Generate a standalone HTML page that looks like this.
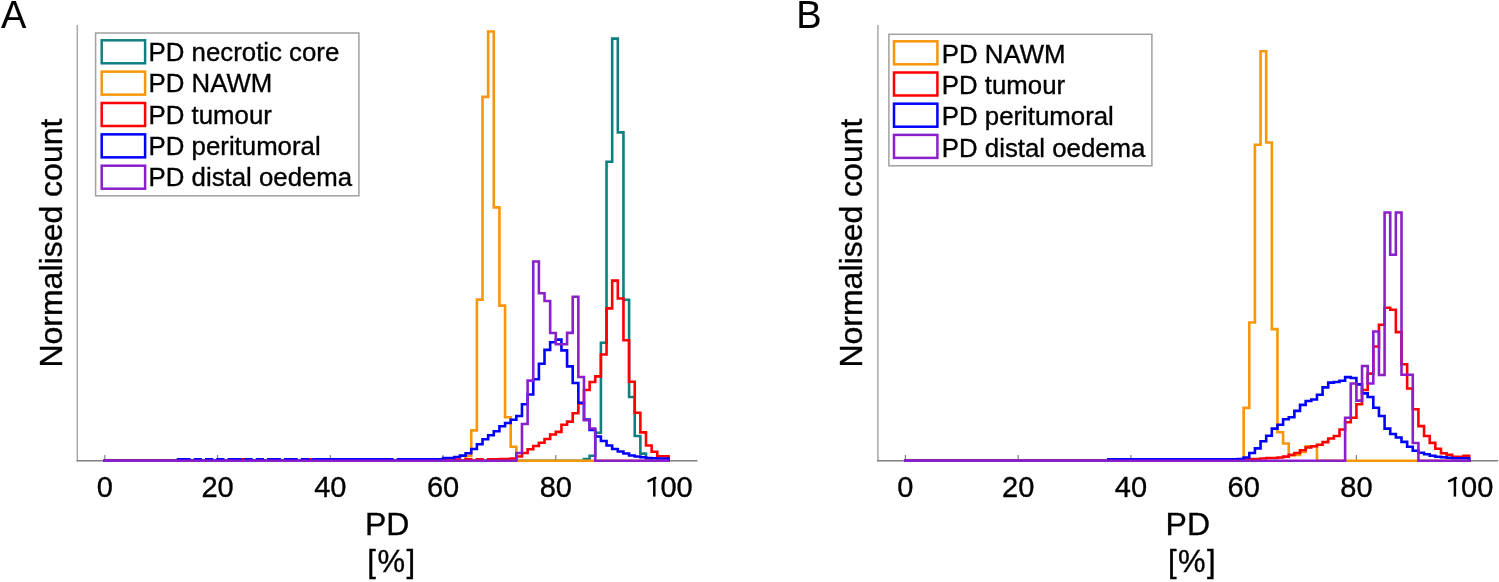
<!DOCTYPE html>
<html><head><meta charset="utf-8"><title>PD histograms</title>
<style>
html,body{margin:0;padding:0;background:#fff;}
body{width:1499px;height:582px;overflow:hidden;}
svg{display:block;will-change:transform;}
text{font-family:"Liberation Sans",sans-serif;fill:#000;stroke:#000;stroke-width:0.35px;}
.tk{font-size:29px;text-anchor:middle;}
.lg{font-size:25.8px;}
.let{font-size:38px;stroke-width:0.1px;}
.yl{font-size:32px;text-anchor:middle;}
.xl{font-size:31px;text-anchor:middle;}
path{fill:none;stroke-width:2.6;stroke-linejoin:miter;stroke-linecap:square;}
</style></head>
<body>
<svg width="1499" height="582" viewBox="0 0 1499 582">
<rect width="1499" height="582" fill="#fff"/>
<line x1="77.3" y1="25" x2="77.3" y2="461.4" stroke="#a8a8a8" stroke-width="1.5"/>
<line x1="76.6" y1="460.8" x2="697.5" y2="460.8" stroke="#808080" stroke-width="1.4"/>
<line x1="104.80" y1="455" x2="104.80" y2="460" stroke="#808080" stroke-width="1.2"/>
<text x="104.80" y="497" class="tk">0</text>
<line x1="217.55" y1="455" x2="217.55" y2="460" stroke="#808080" stroke-width="1.2"/>
<text x="217.55" y="497" class="tk">20</text>
<line x1="330.30" y1="455" x2="330.30" y2="460" stroke="#808080" stroke-width="1.2"/>
<text x="330.30" y="497" class="tk">40</text>
<line x1="443.05" y1="455" x2="443.05" y2="460" stroke="#808080" stroke-width="1.2"/>
<text x="443.05" y="497" class="tk">60</text>
<line x1="555.80" y1="455" x2="555.80" y2="460" stroke="#808080" stroke-width="1.2"/>
<text x="555.80" y="497" class="tk">80</text>
<line x1="668.55" y1="455" x2="668.55" y2="460" stroke="#808080" stroke-width="1.2"/>
<text x="660.49" y="497" class="tk" style="text-anchor:start">00</text>
<path d="M654.30,496.6V477.9" stroke="#000" style="stroke-width:2.5px;stroke-linecap:butt"/>
<path d="M655.30,477.9L648.40,481.1" stroke="#000" style="stroke-width:2.4px;stroke-linecap:round"/>
<path d="M104.80,460.8H110.44H116.08H121.71H127.35H132.99H138.62H144.26H149.90H155.54H161.18H166.81H172.45H178.09H183.72H189.36H195.00H200.64H206.28H211.91H217.55H223.19H228.82H234.46H240.10H245.74H251.38H257.01H262.65H268.29H273.93H279.56H285.20H290.84H296.48H302.11H307.75H313.39H319.02H324.66H330.30H335.94H341.57H347.21H352.85H358.49H364.12H369.76H375.40H381.04H386.68H392.31H397.95H403.59H409.23H414.86H420.50H426.14H431.78H437.41H443.05H448.69H454.33H459.96H465.60H471.24H476.88H482.51H488.15H493.79H499.43H505.06H510.70H516.34H521.98H527.61H533.25H538.89H544.52H550.16H555.80H561.44H567.08H572.71H578.35H583.99V459H589.62V455.7H595.26V432.7H600.90V342.7H606.54V161.7H612.17V38.6H617.81V132.4H623.45V299.8H629.09V397H634.73V436H640.36V453.6H646.00V458.5H651.64V460.8H657.27H662.91H668.55" stroke="#0f7f80"/>
<path d="M104.80,460.8H110.44H116.08H121.71H127.35H132.99H138.62H144.26H149.90H155.54H161.18H166.81H172.45H178.09H183.72H189.36H195.00H200.64H206.28H211.91H217.55H223.19H228.82H234.46H240.10H245.74H251.38H257.01H262.65H268.29H273.93H279.56H285.20H290.84H296.48H302.11H307.75H313.39H319.02H324.66H330.30H335.94H341.57H347.21H352.85H358.49H364.12H369.76H375.40H381.04H386.68H392.31H397.95H403.59H409.23H414.86H420.50H426.14H431.78H437.41H443.05H448.69H454.33H459.96H465.60V456H471.24V430.4H476.88V299.6H482.51V96.9H488.15V31.5H493.79V207.4H499.43V305.6H505.06V417.3H510.70V446.7H516.34V460.8H521.98H527.61H533.25H538.89H544.52H550.16H555.80H561.44H567.08H572.71H578.35H583.99H589.62H595.26H600.90H606.54H612.17H617.81H623.45H629.09H634.73H640.36H646.00H651.64H657.27H662.91H668.55" stroke="#f8960a"/>
<path d="M104.80,460.8H110.44H116.08H121.71H127.35H132.99H138.62H144.26H149.90H155.54H161.18H166.81H172.45H178.09H183.72H189.36H195.00H200.64H206.28H211.91H217.55H223.19H228.82H234.46H240.10V459.2H245.74V460.8H251.38H257.01H262.65H268.29H273.93H279.56H285.20H290.84H296.48H302.11H307.75V459.2H313.39V460.8H319.02H324.66H330.30H335.94H341.57H347.21H352.85H358.49H364.12H369.76H375.40H381.04H386.68H392.31H397.95H403.59H409.23H414.86H420.50H426.14H431.78V459.5H437.41V460.8H443.05V459.5H448.69V460.8H454.33V459.5H459.96V460.8H465.60V459.3H471.24V460.8H476.88V459.3H482.51V460.8H488.15V459.3H493.79H499.43V459H505.06H510.70V458.5H516.34V456.5H521.98V453H527.61V449.3H533.25V446H538.89V442.8H544.52V439H550.16V434.5H555.80V431.9H561.44V424.8H567.08V421.6H572.71V413.2H578.35V403.5H583.99V390H589.62V382H595.26V376.4H600.90V354.5H606.54V308.4H612.17V280.6H617.81V298.5H623.45V340.2H629.09V381.8H634.73V412.8H640.36V432.4H646.00V445.5H651.64V451.7H657.27V456.2H662.91H668.55V460.8" stroke="#ff0000"/>
<path d="M104.80,460.8H110.44H116.08H121.71H127.35H132.99H138.62H144.26H149.90H155.54H161.18H166.81H172.45H178.09V459.2H183.72H189.36V460.8H195.00V459.2H200.64V460.8H206.28V459.2H211.91V460.8H217.55V459.2H223.19V460.8H228.82V459.2H234.46H240.10V460.8H245.74V459.2H251.38V460.8H257.01V459.2H262.65V460.8H268.29V459.2H273.93H279.56V460.8H285.20V459.2H290.84H296.48V460.8H302.11V459.2H307.75V460.8H313.39V459.2H319.02H324.66H330.30H335.94H341.57H347.21H352.85H358.49H364.12H369.76H375.40H381.04H386.68H392.31V460.8H397.95V459.2H403.59H409.23H414.86H420.50H426.14H431.78H437.41H443.05V458H448.69H454.33V457H459.96V455.6H465.60V453.2H471.24V449H476.88V444.2H482.51V439.3H488.15V435.3H493.79V431.2H499.43V426.3H505.06V423H510.70V419.8H516.34V416H521.98V404.2H527.61V394.5H533.25V379.3H538.89V363.8H544.52V349.9H550.16V342.2H555.80V339.6H561.44V350.4H567.08V366.4H572.71V383H578.35V402.8H583.99V419.6H589.62V430H595.26V436.5H600.90V441H606.54V445.5H612.17V449H617.81V451.5H623.45V453.5H629.09V455.5H634.73V456.5H640.36V457.3H646.00V458H651.64V458.3H657.27V458.5H662.91H668.55V460.8" stroke="#0000ff"/>
<path d="M104.80,460.8H110.44H116.08H121.71H127.35H132.99H138.62H144.26H149.90H155.54H161.18H166.81H172.45H178.09H183.72H189.36H195.00H200.64H206.28H211.91H217.55H223.19H228.82H234.46H240.10H245.74H251.38H257.01H262.65H268.29H273.93H279.56H285.20H290.84H296.48H302.11H307.75H313.39H319.02H324.66H330.30H335.94H341.57H347.21H352.85H358.49H364.12H369.76H375.40H381.04H386.68H392.31H397.95H403.59H409.23H414.86H420.50H426.14H431.78H437.41H443.05H448.69H454.33H459.96H465.60H471.24H476.88H482.51H488.15H493.79H499.43H505.06H510.70H516.34V453H521.98V424H527.61V380.6H533.25V261.5H538.89V293.3H544.52V301H550.16V333H555.80V344.2H561.44H567.08V332.9H572.71V296.7H578.35V377H583.99V420.3H589.62V428.5H595.26V460.8H600.90H606.54H612.17H617.81H623.45H629.09H634.73H640.36H646.00H651.64H657.27H662.91H668.55" stroke="#8a1fcc"/>
<rect x="95.6" y="33.0" width="263.3" height="162.8" fill="#fff" stroke="#a0a0a0" stroke-width="1.5"/>
<rect x="101.7" y="40.30" width="43.4" height="23" fill="none" stroke="#0f7f80" stroke-width="2.5"/>
<text x="148.6" y="60.80" class="lg">PD necrotic core</text>
<rect x="101.7" y="71.65" width="43.4" height="23" fill="none" stroke="#f8960a" stroke-width="2.5"/>
<text x="148.6" y="92.15" class="lg">PD NAWM</text>
<rect x="101.7" y="103.00" width="43.4" height="23" fill="none" stroke="#ff0000" stroke-width="2.5"/>
<text x="148.6" y="123.50" class="lg">PD tumour</text>
<rect x="101.7" y="134.35" width="43.4" height="23" fill="none" stroke="#0000ff" stroke-width="2.5"/>
<text x="148.6" y="154.85" class="lg">PD peritumoral</text>
<rect x="101.7" y="165.70" width="43.4" height="23" fill="none" stroke="#8a1fcc" stroke-width="2.5"/>
<text x="148.6" y="186.20" class="lg">PD distal oedema</text>
<text x="1.1" y="28.1" class="let">A</text>
<text transform="translate(61.8,243.1) rotate(-90)" class="yl">Normalised count</text>
<text x="387.2" y="534.6" class="xl" style="font-size:32px">PD</text>
<text x="392.0" y="572" class="xl" style="letter-spacing:1.5px">[%]</text>
<line x1="877.9" y1="25" x2="877.9" y2="461.4" stroke="#a8a8a8" stroke-width="1.5"/>
<line x1="877.1999999999999" y1="460.8" x2="1498.1" y2="460.8" stroke="#808080" stroke-width="1.4"/>
<line x1="905.40" y1="455" x2="905.40" y2="460" stroke="#808080" stroke-width="1.2"/>
<text x="905.40" y="497" class="tk">0</text>
<line x1="1018.15" y1="455" x2="1018.15" y2="460" stroke="#808080" stroke-width="1.2"/>
<text x="1018.15" y="497" class="tk">20</text>
<line x1="1130.90" y1="455" x2="1130.90" y2="460" stroke="#808080" stroke-width="1.2"/>
<text x="1130.90" y="497" class="tk">40</text>
<line x1="1243.65" y1="455" x2="1243.65" y2="460" stroke="#808080" stroke-width="1.2"/>
<text x="1243.65" y="497" class="tk">60</text>
<line x1="1356.40" y1="455" x2="1356.40" y2="460" stroke="#808080" stroke-width="1.2"/>
<text x="1356.40" y="497" class="tk">80</text>
<line x1="1469.15" y1="455" x2="1469.15" y2="460" stroke="#808080" stroke-width="1.2"/>
<text x="1461.09" y="497" class="tk" style="text-anchor:start">00</text>
<path d="M1454.90,496.6V477.9" stroke="#000" style="stroke-width:2.5px;stroke-linecap:butt"/>
<path d="M1455.90,477.9L1449.00,481.1" stroke="#000" style="stroke-width:2.4px;stroke-linecap:round"/>
<path d="M905.40,460.8H911.04H916.67H922.31H927.95H933.59H939.23H944.86H950.50H956.14H961.77H967.41H973.05H978.69H984.32H989.96H995.60H1001.24H1006.88H1012.51H1018.15H1023.79H1029.42H1035.06H1040.70H1046.34H1051.97H1057.61H1063.25H1068.89H1074.53H1080.16H1085.80H1091.44H1097.08H1102.71H1108.35H1113.99H1119.62H1125.26H1130.90H1136.54H1142.17H1147.81H1153.45H1159.09H1164.72H1170.36H1176.00H1181.64H1187.28H1192.91H1198.55H1204.19H1209.83H1215.46H1221.10H1226.74H1232.38H1238.01H1243.65V407.9H1249.29V322.5H1254.92V144.7H1260.56V51.3H1266.20V142.5H1271.84V329.1H1277.47V432.2H1283.11V443.5H1288.75V455.5H1294.39V455H1300.03V452H1305.66V446.3H1311.30H1316.94V460.8H1322.58H1328.21H1333.85H1339.49H1345.12H1350.76H1356.40H1362.04H1367.67H1373.31H1378.95H1384.59H1390.22H1395.86H1401.50H1407.14H1412.78H1418.41H1424.05H1429.69H1435.33H1440.96H1446.60H1452.24H1457.88H1463.51H1469.15" stroke="#f8960a"/>
<path d="M905.40,460.8H911.04H916.67H922.31H927.95H933.59H939.23H944.86H950.50H956.14H961.77H967.41H973.05H978.69H984.32H989.96H995.60H1001.24H1006.88H1012.51H1018.15H1023.79H1029.42H1035.06H1040.70H1046.34H1051.97H1057.61H1063.25H1068.89H1074.53H1080.16H1085.80H1091.44H1097.08H1102.71H1108.35H1113.99H1119.62H1125.26H1130.90H1136.54H1142.17H1147.81H1153.45V459.6H1159.09H1164.72H1170.36H1176.00H1181.64H1187.28H1192.91H1198.55H1204.19H1209.83H1215.46H1221.10H1226.74H1232.38H1238.01H1243.65V459.5H1249.29V459H1254.92H1260.56V458.5H1266.20V458H1271.84H1277.47V457.5H1283.11V456.6H1288.75V454.8H1294.39V453H1300.03V450.3H1305.66V447.5H1311.30V446.3H1316.94V444.8H1322.58V442.1H1328.21V438.5H1333.85V436H1339.49V429.5H1345.12V422.3H1350.76V417.8H1356.40V404.2H1362.04V390H1367.67V373.6H1373.31V346.5H1378.95V324.8H1384.59V307.8H1390.22V309.8H1395.86V332.1H1401.50V364.2H1407.14V388.5H1412.78V409.3H1418.41V426.1H1424.05V436H1429.69V442.9H1435.33V448.8H1440.96V453.2H1446.60V454.7H1452.24V456.7H1457.88H1463.51V455.7H1469.15V460.8" stroke="#ff0000"/>
<path d="M905.40,460.8H911.04H916.67H922.31H927.95H933.59H939.23H944.86H950.50H956.14H961.77H967.41H973.05H978.69H984.32H989.96H995.60H1001.24H1006.88H1012.51H1018.15H1023.79H1029.42H1035.06H1040.70H1046.34H1051.97H1057.61H1063.25H1068.89H1074.53H1080.16H1085.80H1091.44H1097.08H1102.71H1108.35V459.2H1113.99H1119.62H1125.26H1130.90H1136.54H1142.17H1147.81H1153.45H1159.09H1164.72H1170.36H1176.00H1181.64H1187.28H1192.91H1198.55H1204.19H1209.83H1215.46H1221.10H1226.74H1232.38H1238.01V459H1243.65V457.5H1249.29V453H1254.92V448.4H1260.56V441.2H1266.20V435.8H1271.84V428.6H1277.47V424.8H1283.11V419.3H1288.75V417.2H1294.39V410.9H1300.03V404.9H1305.66V401H1311.30V399.5H1316.94V394.7H1322.58V387.4H1328.21V382.6H1333.85V382H1339.49V380.8H1345.12V377.1H1350.76V378H1356.40V384.4H1362.04V393.4H1367.67V397H1373.31V407.8H1378.95V416H1384.59V428.6H1390.22V434H1395.86V437.5H1401.50V441.9H1407.14V446.8H1412.78V450.8H1418.41V452.8H1424.05V454.3H1429.69V455.7H1435.33V456.7H1440.96V457.3H1446.60V457.8H1452.24V458.3H1457.88H1463.51H1469.15V460.8" stroke="#0000ff"/>
<path d="M905.40,460.8H911.04H916.67H922.31H927.95H933.59H939.23H944.86H950.50H956.14H961.77H967.41H973.05H978.69H984.32H989.96H995.60H1001.24H1006.88H1012.51H1018.15H1023.79H1029.42H1035.06H1040.70H1046.34H1051.97H1057.61H1063.25H1068.89H1074.53H1080.16H1085.80H1091.44H1097.08H1102.71H1108.35H1113.99H1119.62H1125.26H1130.90H1136.54H1142.17H1147.81H1153.45H1159.09H1164.72H1170.36H1176.00H1181.64H1187.28H1192.91H1198.55H1204.19H1209.83H1215.46H1221.10H1226.74H1232.38H1238.01H1243.65H1249.29H1254.92H1260.56H1266.20H1271.84H1277.47H1283.11H1288.75H1294.39H1300.03H1305.66H1311.30H1316.94H1322.58H1328.21H1333.85H1339.49H1345.12V417.8H1350.76V383.5H1356.40V400.6H1362.04V366H1367.67V383.5H1373.31V331.5H1378.95V375H1384.59V212.5H1390.22V254.7H1395.86V212.5H1401.50V374.7H1407.14H1412.78V443H1418.41V460.8H1424.05H1429.69H1435.33H1440.96H1446.60H1452.24H1457.88H1463.51H1469.15" stroke="#8a1fcc"/>
<rect x="888.9" y="34.3" width="263.0" height="131.5" fill="#fff" stroke="#a0a0a0" stroke-width="1.5"/>
<rect x="894.0" y="41.30" width="43.4" height="23" fill="none" stroke="#f8960a" stroke-width="2.5"/>
<text x="941.8" y="62.90" class="lg">PD NAWM</text>
<rect x="894.0" y="72.50" width="43.4" height="23" fill="none" stroke="#ff0000" stroke-width="2.5"/>
<text x="941.8" y="94.10" class="lg">PD tumour</text>
<rect x="894.0" y="103.70" width="43.4" height="23" fill="none" stroke="#0000ff" stroke-width="2.5"/>
<text x="941.8" y="125.30" class="lg">PD peritumoral</text>
<rect x="894.0" y="134.90" width="43.4" height="23" fill="none" stroke="#8a1fcc" stroke-width="2.5"/>
<text x="941.8" y="156.50" class="lg">PD distal oedema</text>
<text x="796.3" y="28.1" class="let">B</text>
<text transform="translate(862.4,243.1) rotate(-90)" class="yl">Normalised count</text>
<text x="1187.8" y="534.6" class="xl" style="font-size:32px">PD</text>
<text x="1192.6" y="572" class="xl" style="letter-spacing:1.5px">[%]</text>
</svg>
</body></html>
